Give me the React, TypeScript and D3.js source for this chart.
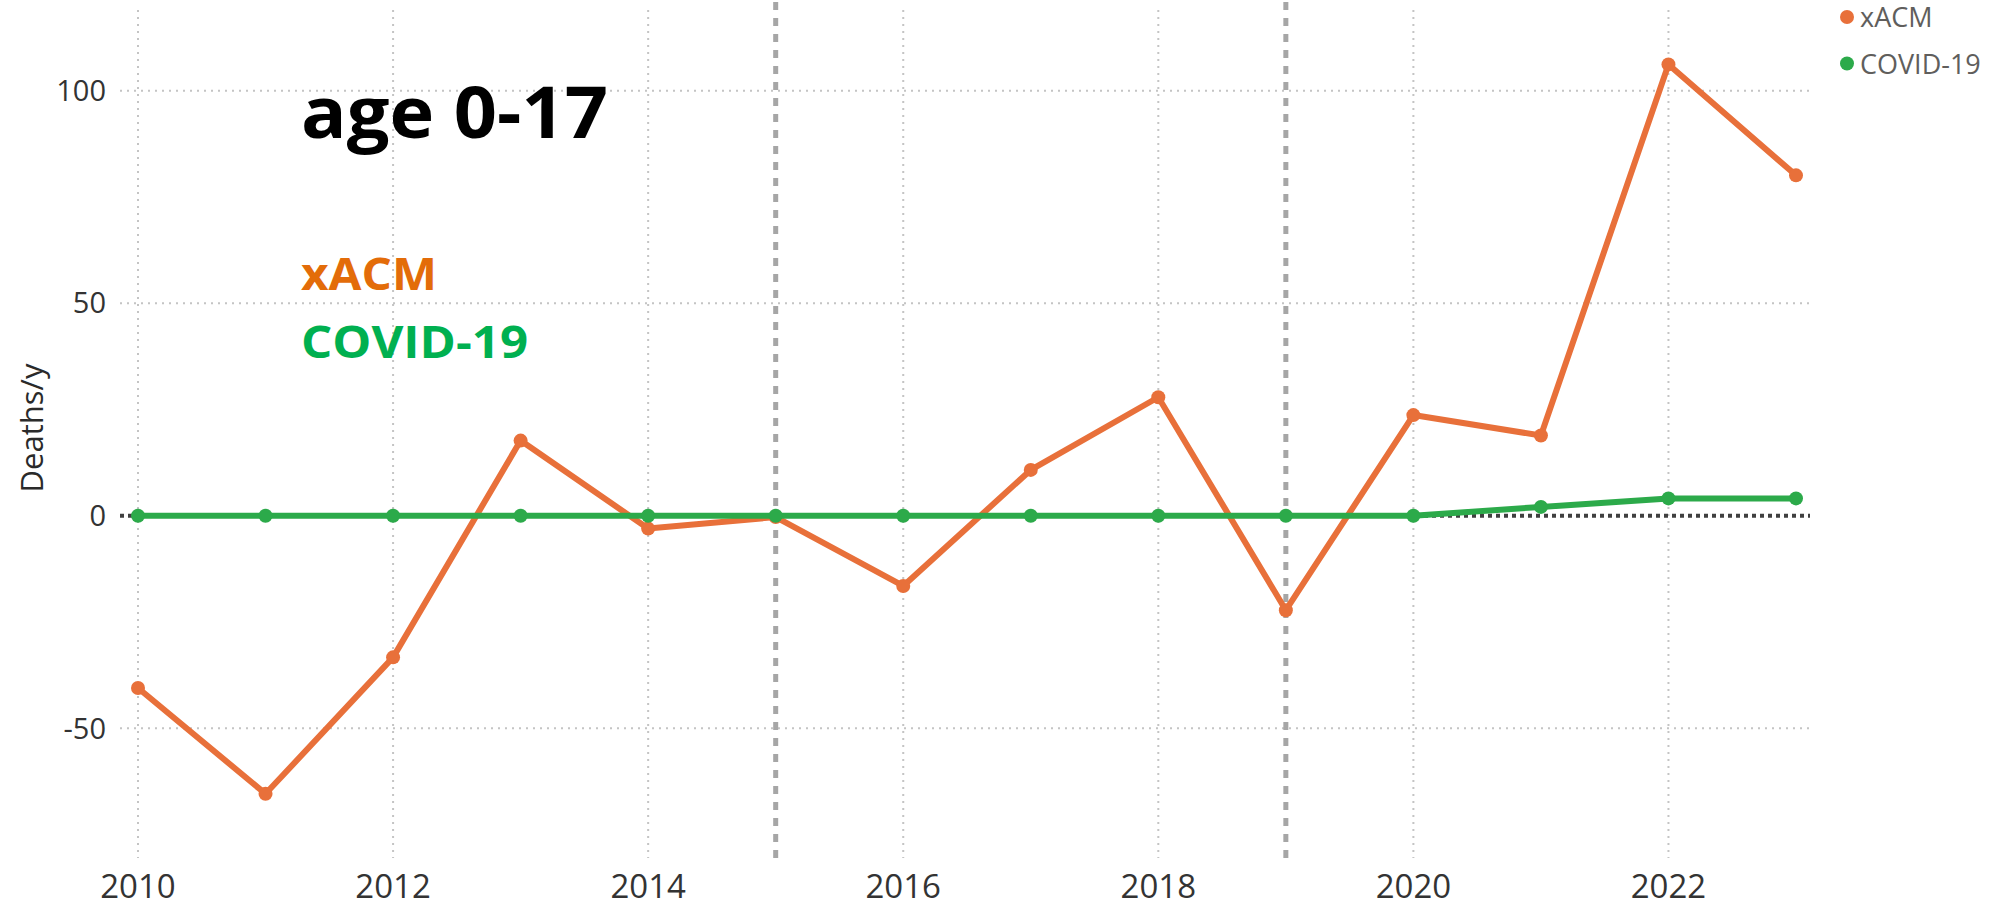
import React from "react";
import * as d3 from "d3";

const years = [2010, 2011, 2012, 2013, 2014, 2015, 2016, 2017, 2018, 2019, 2020, 2021, 2022, 2023];
const xacm = [-40.5, -65.4, -33.3, 17.7, -3, -0.3, -16.5, 10.8, 27.9, -22.2, 23.7, 18.9, 106.2, 80.1];
const covid = [0, 0, 0, 0, 0, 0, 0, 0, 0, 0, 0, 2.1, 4.1, 4.1];
const yTicks = [-50, 0, 50, 100];
const xTicks = [2010, 2012, 2014, 2016, 2018, 2020, 2022];
const markerYears = [2015, 2019];
const seriesNames = ["xACM", "COVID-19"];
const titleText = "age 0-17";
const yAxisTitle = "Deaths/y";

const W = 2000;
const H = 913;
const ORANGE = "#E8703A";
const GREEN = "#2CAA4A";

export default function App() {
  const x = d3.scaleLinear().domain([2010, 2023]).range([138, 1796]);
  const y = d3.scaleLinear().domain([-80.5, 119]).range([858, 10]);
  const plotLeft = 120;
  const plotRight = 1810;
  const plotTop = 10;
  const plotBottom = 858;

  const line = d3
    .line<number>()
    .x((_, i) => x(years[i]))
    .y((d) => y(d));

  const series = [
    { name: seriesNames[0], values: xacm, color: ORANGE },
    { name: seriesNames[1], values: covid, color: GREEN },
  ];

  return (
    <svg
      width={W}
      height={H}
      style={{ position: "absolute", left: 0, top: 0, background: "#fff" }}
      fontFamily="'Open Sans', 'Noto Sans', sans-serif"
    >
      <rect x={0} y={0} width={W} height={H} fill="#fff" />
      {/* horizontal gridlines */}
      {yTicks
        .filter((t) => t !== 0)
        .map((t) => (
          <line
            key={"hg" + t}
            x1={plotLeft}
            x2={plotRight}
            y1={y(t)}
            y2={y(t)}
            stroke="#C4C4C4"
            strokeWidth={2}
            strokeDasharray="2,5"
          />
        ))}
      {/* vertical gridlines */}
      {xTicks.map((t) => (
        <line
          key={"vg" + t}
          x1={x(t)}
          x2={x(t)}
          y1={plotTop}
          y2={plotBottom}
          stroke="#C4C4C4"
          strokeWidth={2}
          strokeDasharray="2,5"
        />
      ))}
      {/* y tick labels */}
      {yTicks.map((t) => (
        <text
          key={"yt" + t}
          x={106}
          y={y(t)}
          dy="0.35em"
          textAnchor="end"
          fontSize={29}
          fill="#333"
        >
          {t}
        </text>
      ))}
      {/* x tick labels */}
      {xTicks.map((t) => (
        <text key={"xt" + t} x={x(t)} y={898} textAnchor="middle" fontSize={33} fill="#333">
          {t}
        </text>
      ))}
      {/* y axis title */}
      <text
        transform={`translate(43, 428) rotate(-90)`}
        textAnchor="middle"
        fontSize={31}
        fill="#2a2a2a"
      >
        {yAxisTitle}
      </text>
      {/* dashed vertical markers */}
      {markerYears.map((t) => (
        <line
          key={"mk" + t}
          x1={x(t)}
          x2={x(t)}
          y1={2}
          y2={plotBottom}
          stroke="#A6A6A6"
          strokeWidth={5}
          strokeDasharray="8,8"
        />
      ))}
      {/* zero line */}
      <line
        x1={plotLeft}
        x2={plotRight}
        y1={y(0)}
        y2={y(0)}
        stroke="#404040"
        strokeWidth={4}
        strokeDasharray="4,4"
      />
      {/* series */}
      {series.map((s) => (
        <g key={s.name}>
          <path d={line(s.values) || ""} fill="none" stroke={s.color} strokeWidth={6} strokeLinejoin="round" />
          {s.values.map((v, i) => (
            <circle key={i} cx={x(years[i])} cy={y(v)} r={7} fill={s.color} />
          ))}
        </g>
      ))}
      {/* title & annotations */}
      <text
        x={301}
        y={138}
        fontSize={72}
        fontWeight={700}
        fill="#000"
        textLength={307}
        lengthAdjust="spacingAndGlyphs"
      >
        {titleText}
      </text>
      <text
        x={301}
        y={290}
        fontSize={44}
        fontWeight={700}
        fill="#E36C09"
        textLength={136}
        lengthAdjust="spacingAndGlyphs"
      >
        {seriesNames[0]}
      </text>
      <text
        x={301}
        y={358}
        fontSize={44}
        fontWeight={700}
        fill="#00B050"
        textLength={227}
        lengthAdjust="spacingAndGlyphs"
      >
        {seriesNames[1]}
      </text>
      {/* legend */}
      {series.map((s, i) => (
        <g key={"lg" + s.name}>
          <circle cx={1847} cy={17 + i * 46.5} r={7} fill={s.color} />
          <text x={1860} y={27 + i * 47} fontSize={27} fill="#605E5C">
            {s.name}
          </text>
        </g>
      ))}
    </svg>
  );
}
